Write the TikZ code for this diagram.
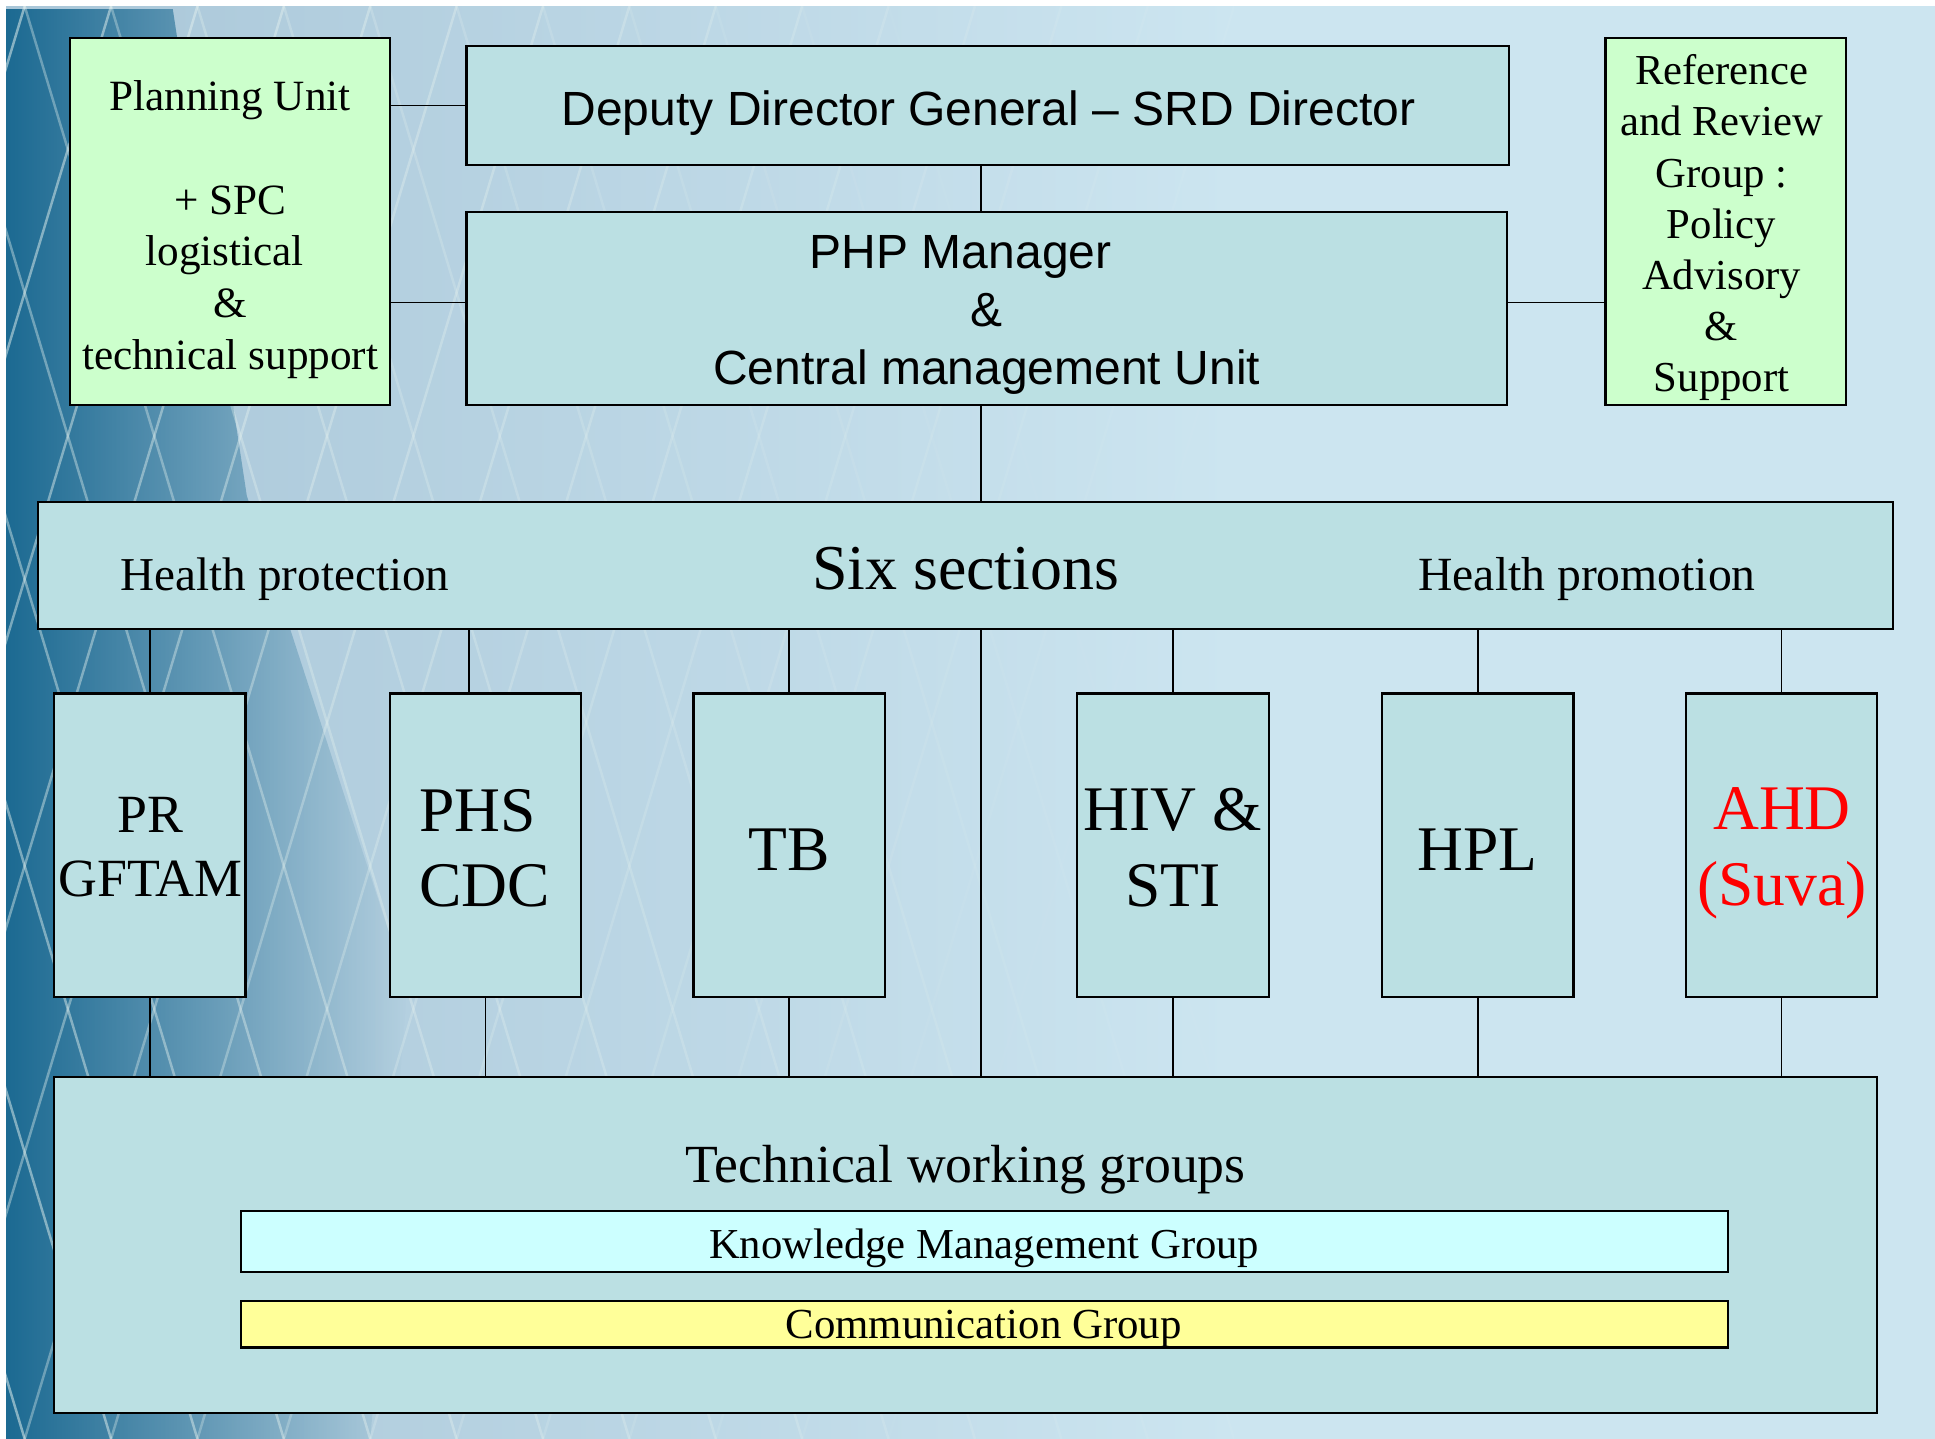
\documentclass[tikz,border=0pt]{standalone}
\usepackage{fontspec}
\setmainfont{Liberation Serif}
\newfontfamily\arialf{Liberation Sans}
\usetikzlibrary{fadings}
\definecolor{bgblue}{HTML}{CCE5F0}
\definecolor{photodark}{HTML}{1C6A92}
\definecolor{photomid}{HTML}{A9C6D8}
\definecolor{latline}{HTML}{E8F4F0}
\definecolor{boxfill}{HTML}{BBE0E3}
\definecolor{greenbox}{HTML}{CCFFCC}
\definecolor{kmgfill}{HTML}{CCFFFF}
\definecolor{commfill}{HTML}{FFFF99}
\tikzfading[name=darkfade, left color=transparent!0, middle color=transparent!25, right color=transparent!100]
\newcommand\fsz[2]{\fontsize{#1}{#2}\selectfont}
\begin{document}
\begin{tikzpicture}[x=1pt,y=-1pt,
  box/.style={draw=black,line width=1.8pt,fill=boxfill,inner sep=0pt,outer sep=0pt},
  txt/.style={inner sep=0pt,outer sep=0pt,align=center},
  conn/.style={draw=black,line width=1.2pt}]
\useasboundingbox (0,0) rectangle (1568,1166);
% ---------- background ----------
\fill[white] (0,0) rectangle (1568,1166);
\fill[bgblue] (5,5) rectangle (1568,1166);
\shade[left color=photomid, right color=bgblue] (5,5) rectangle (1000,1166);
\fill[photodark, path fading=darkfade]
  (5,5) -- (140,5) -- (200,400) -- (330,800) -- (300,1166) -- (5,1166) -- cycle;
\begin{scope}
  \clip (5,5) rectangle (1000,1166);
  \foreach \x in {-400,-330,...,1100} {
    \pgfmathsetmacro\op{max(0,0.45*(1-(\x+175)/1000))}
    \draw[latline,line width=2pt,opacity=\op] (\x,5) -- (\x+350,1166);
    \draw[latline,line width=2pt,opacity=\op] (\x+350,5) -- (\x,1166);
  }
\end{scope}
% ---------- top row ----------
\node[box,fill=greenbox,minimum width=259,minimum height=297] (plan) at (186.5,179.5) {};
\node[txt,font=\fsz{35}{42}] (plantext) at (186.5,186) {Planning Unit\\[42pt]+ SPC\\logistical\rule{9pt}{0pt}\\\&\\technical support};
\node[box,minimum width=845,minimum height=97] (ddg) at (800.5,85.5) {};
\node[txt,anchor=base,font=\arialf\fsz{38.9}{46}] (ddgtext) at (801,102) {Deputy Director General – SRD Director};
\node[box,minimum width=843,minimum height=156] (php) at (799.5,250) {};
\node[txt,font=\arialf\fsz{38.9}{47}] (phptext) at (799.5,255) {PHP Manager\rule{42pt}{0pt}\\\&\\Central management Unit};
\node[box,fill=greenbox,minimum width=195,minimum height=297] (ref) at (1398.5,179.5) {};
\node[txt,font=\fsz{34.6}{41.5}] (reftext) at (1395,184.6) {Reference\\and Review\\Group :\\Policy\\Advisory\\\&\\Support};
% ---------- six sections ----------
\node[box,minimum width=1503,minimum height=103] (six) at (782.5,458.5) {};
\node[txt,anchor=base,font=\fsz{38.2}{45}] (hprot) at (231,478.5) {Health protection};
\node[txt,anchor=base,font=\fsz{51.8}{60}] (sixtext) at (782.5,478) {Six sections};
\node[txt,anchor=base,font=\fsz{38.6}{45}] (hprom) at (1286,478.5) {Health promotion};
% ---------- section boxes ----------
\node[box,minimum width=155,minimum height=246] (pr) at (121.5,685) {};
\node[box,minimum width=155,minimum height=246] (phs) at (393.5,685) {};
\node[box,minimum width=155,minimum height=246] (tb) at (639.5,685) {};
\node[box,minimum width=155,minimum height=246] (hiv) at (950.5,685) {};
\node[box,minimum width=155,minimum height=246] (hpl) at (1197.5,685) {};
\node[box,minimum width=155,minimum height=246] (ahd) at (1443.5,685) {};
\node[txt,font=\fsz{43.6}{52}] (prtext) at (122,686.8) {PR\\GFTAM};
\node[txt,align=left,anchor=west,font=\fsz{51.5}{61}] (phstext) at (340,687.6) {PHS\\CDC};
\node[txt,anchor=base,font=\fsz{51.5}{61}] (tbtext) at (639.5,705) {TB};
\node[txt,font=\fsz{51.5}{61}] (hivtext) at (950.5,687) {HIV \&\\STI};
\node[txt,anchor=base,font=\fsz{51.5}{61}] (hpltext) at (1197.5,705) {HPL};
\node[txt,text=red,font=\fsz{51.5}{61}] (ahdtext) at (1444,691.5) {AHD\\(Suva)};
% ---------- technical working groups ----------
\node[box,minimum width=1477,minimum height=272] (twg) at (782.5,1009) {};
\node[txt,anchor=base,font=\fsz{43.5}{50}] (twgtext) at (782.5,958) {Technical working groups};
\node[box,fill=kmgfill,minimum width=1205,minimum height=50] (kmg) at (797.5,1006) {};
\node[txt,anchor=base,font=\fsz{34.6}{42}] (kmgtext) at (797.5,1019.5) {Knowledge Management Group};
\node[box,fill=commfill,minimum width=1205,minimum height=38] (comm) at (797.5,1073) {};
\node[txt,anchor=base,font=\fsz{34.7}{42}] (commtext) at (797,1085) {Communication Group};
% ---------- connectors ----------
\draw[conn] (plan.east |- ddg.west) -- (ddg.west);
\draw[conn] ([yshift=5pt]php.west -| plan.east) -- ([yshift=5pt]php.west);
\draw[conn] ([yshift=5pt]php.east) -- ([yshift=5pt]php.east -| ref.west);
\draw[conn] ([xshift=-5.5pt]ddg.south) -- ([xshift=-5.5pt]ddg.south |- php.north);
\draw[conn] ([xshift=-4.5pt]php.south) -- ([xshift=-4.5pt]php.south |- six.north);
\draw[conn] ([xshift=-4.5pt]php.south |- six.south) -- ([xshift=-4.5pt]php.south |- twg.north);
\draw[conn] (pr.north |- six.south) -- (pr.north);
\draw[conn] ([xshift=-13.5pt]phs.north |- six.south) -- ([xshift=-13.5pt]phs.north);
\draw[conn] (tb.north |- six.south) -- (tb.north);
\draw[conn] (hiv.north |- six.south) -- (hiv.north);
\draw[conn] (hpl.north |- six.south) -- (hpl.north);
\draw[conn] (ahd.north |- six.south) -- (ahd.north);
\draw[conn] (pr.south) -- (pr.south |- twg.north);
\draw[conn] (phs.south) -- (phs.south |- twg.north);
\draw[conn] (tb.south) -- (tb.south |- twg.north);
\draw[conn] (hiv.south) -- (hiv.south |- twg.north);
\draw[conn] (hpl.south) -- (hpl.south |- twg.north);
\draw[conn] (ahd.south) -- (ahd.south |- twg.north);
\end{tikzpicture}
\end{document}
